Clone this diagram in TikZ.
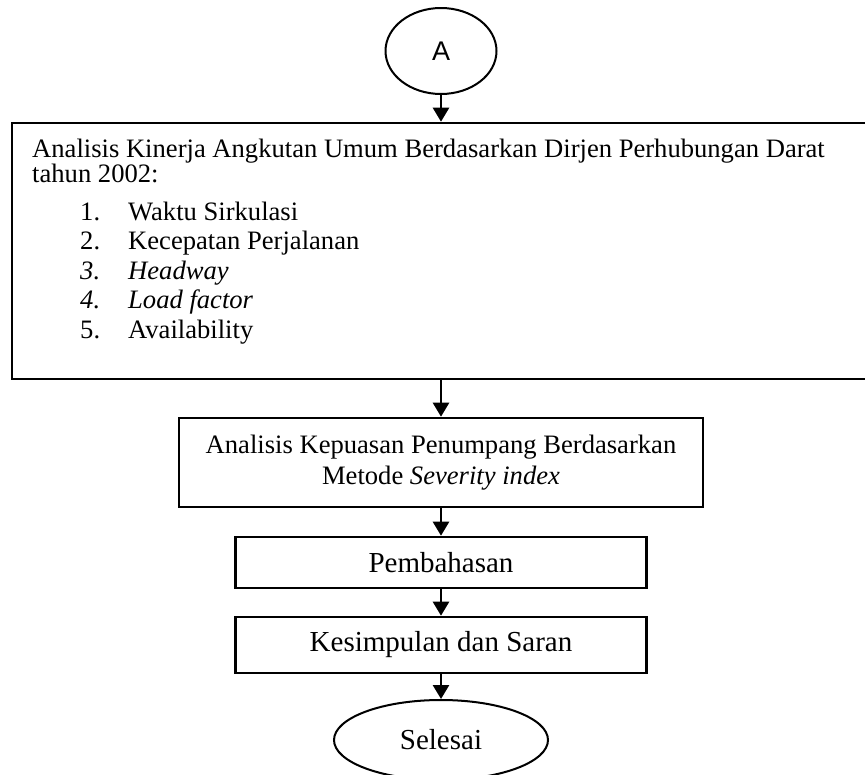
\documentclass[tikz,border=0pt]{standalone}
\usepackage{fontspec}
\setmainfont{Liberation Serif}
\newfontfamily\sansA{Liberation Sans}
\usetikzlibrary{arrows.meta,shapes.geometric}
\begin{document}
\begin{tikzpicture}[x=1pt,y=-1pt,
  every node/.style={font=\fontsize{26.6}{31}\selectfont},
  boxstyle/.style={draw, line width=2.6pt, inner sep=0pt, align=center},
  bigtext/.style={font=\fontsize{29}{33}\selectfont},
  txt/.style={anchor=base west, inner sep=0pt},
  flow/.style={-{Triangle[width=16pt,length=14pt]}, line width=2.6pt},
  term/.style={draw, ellipse, line width=2pt, inner sep=0pt}]
\useasboundingbox (0,0) rectangle (865,774);
\node[term, minimum width=111pt, minimum height=86pt, font=\sansA\fontsize{27}{31}\selectfont] (A) at (441,51) {A};
\node[boxstyle, minimum width=858pt, minimum height=256pt] (K) at (441,251) {};
\node[txt] (k1) at (32,157) {Analisis Kinerja Angkutan Umum Berdasarkan Dirjen Perhubungan Darat};
\node[txt] (k2) at (32,182) {tahun 2002:};
\node[txt] (n1) at (80,220) {1.};
\node[txt] (i1) at (128,220) {Waktu Sirkulasi};
\node[txt] (n2) at (80,249.5) {2.};
\node[txt] (i2) at (128,249.5) {Kecepatan Perjalanan};
\node[txt] (n3) at (80,279) {\textit{3.}};
\node[txt] (i3) at (128,279) {\textit{Headway}};
\node[txt] (n4) at (80,308.5) {\textit{4.}};
\node[txt] (i4) at (128,308.5) {\textit{Load factor}};
\node[txt] (n5) at (80,338) {5.};
\node[txt] (i5) at (128,338) {Availability};
\node[boxstyle, minimum width=524pt, minimum height=89pt] (P) at (441,462.5) {Analisis Kepuasan Penumpang Berdasarkan\\Metode \textit{Severity index}};
\node[boxstyle, bigtext, minimum width=411pt, minimum height=51pt] (B) at (441,562.5) {Pembahasan};
\node[boxstyle, bigtext, minimum width=411pt, minimum height=56pt] (S) at (441,645) {Kesimpulan dan Saran};
\node[term, bigtext, minimum width=214pt, minimum height=80pt] (E) at (441,740) {Selesai};
\draw[flow] (A) -- (K);
\draw[flow] (K) -- (P);
\draw[flow] (P) -- (B);
\draw[flow] (B) -- (S);
\draw[flow] (S) -- (E);
\end{tikzpicture}
\end{document}
